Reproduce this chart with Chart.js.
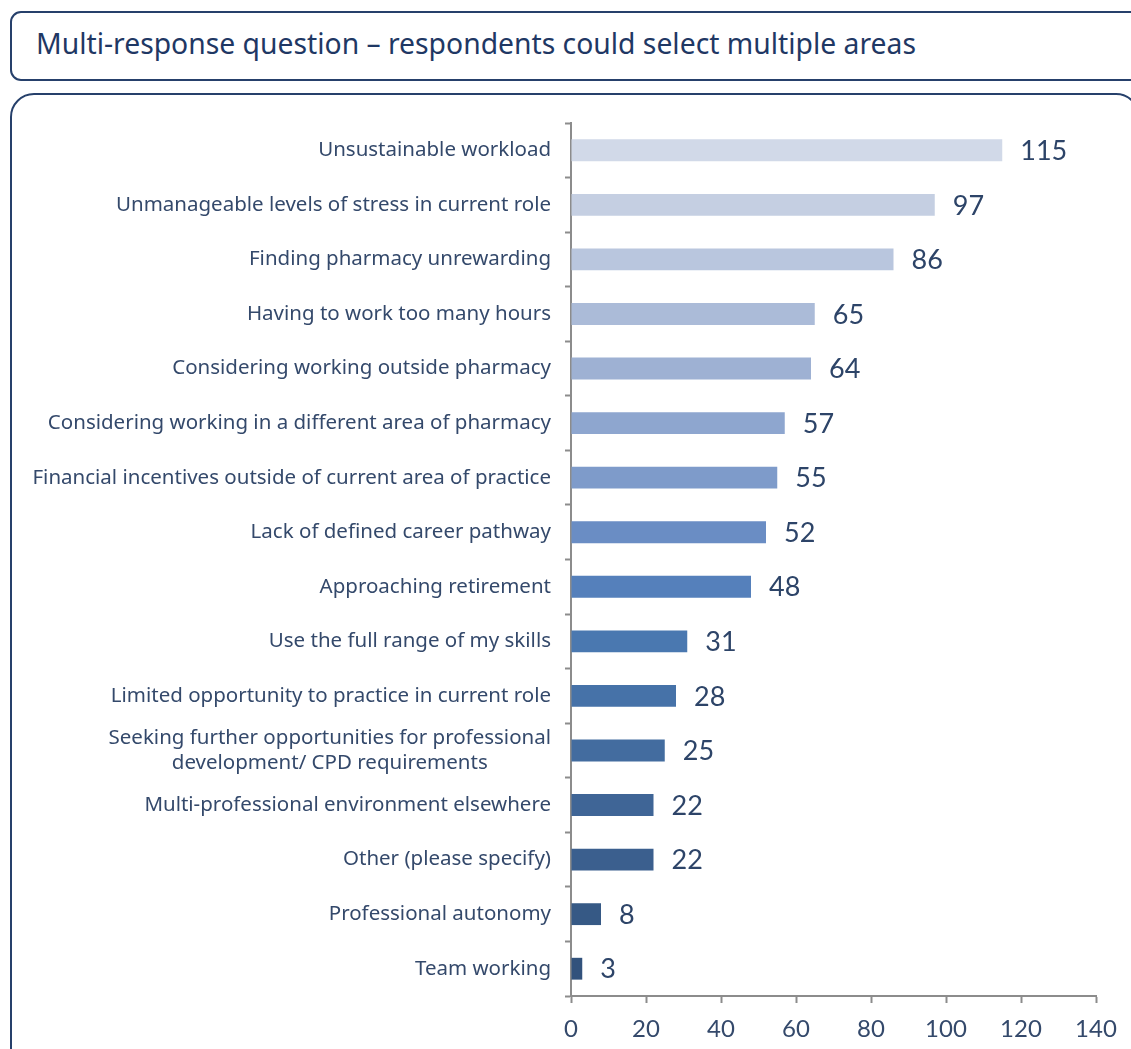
<!DOCTYPE html>
<html>
<head>
<meta charset="utf-8">
<script src="https://cdn.jsdelivr.net/npm/chart.js@4.4.1/dist/chart.umd.min.js"></script>
<style>
  html, body { margin: 0; padding: 0; background: #fff; overflow: hidden; }
  body { width: 1131px; height: 1049px; position: relative; font-family: "Noto Sans", Lato, sans-serif; }
  .titlebox {
    position: absolute; left: 10px; top: 11px; width: 1160px; height: 66px;
    border: 2px solid #26406b; border-radius: 11px;
  }
  .titlebox span {
    position: absolute; left: 24px; top: 11px;
    font-size: 28.3px; color: #1f3864; font-weight: 400;
  }
  .panel {
    position: absolute; left: 10px; top: 93px; width: 1126px; height: 980px;
    border: 2px solid #26406b; border-radius: 24px;
  }
  #wrap { position: absolute; left: 0; top: 0; width: 1131px; height: 1049px; }
</style>
</head>
<body>
<div class="titlebox"><span>Multi-response question – respondents could select multiple areas</span></div>
<div class="panel"></div>
<div id="wrap"><canvas id="miGrafica"></canvas></div>
<script>
const categorias = [
  "Unsustainable workload",
  "Unmanageable levels of stress in current role",
  "Finding pharmacy unrewarding",
  "Having to work too many hours",
  "Considering working outside pharmacy",
  "Considering working in a different area of pharmacy",
  "Financial incentives outside of current area of practice",
  "Lack of defined career pathway",
  "Approaching retirement",
  "Use the full range of my skills",
  "Limited opportunity to practice in current role",
  ["Seeking further opportunities for professional", "development/ CPD requirements"],
  "Multi-professional environment elsewhere",
  "Other (please specify)",
  "Professional autonomy",
  "Team working"
];
const respuestas = [115, 97, 86, 65, 64, 57, 55, 52, 48, 31, 28, 25, 22, 22, 8, 3];
const colores = [
  "#d1d9e8", "#c5cfe2", "#b9c6de", "#abbbd8", "#9eb1d3", "#8ea6cf", "#7e9bca", "#6a8dc4",
  "#5580bb", "#4a78b0", "#4672a8", "#436c9f", "#3f6596", "#3b5f8e", "#365985", "#32527c"
];
const ticksX = [0, 20, 40, 60, 80, 100, 120, 140];

const textoColor = "#34496b";
const ejeColor = "#8c8c8c";

// dibuja las etiquetas de categoria (centradas si tienen varias lineas)
const etiquetasY = {
  id: "etiquetasY",
  afterDraw(chart) {
    const ctx = chart.ctx;
    const y = chart.scales.y;
    const derecha = y.right - 20;
    ctx.save();
    ctx.font = "20.5px 'Noto Sans', Lato, sans-serif";
    ctx.fillStyle = textoColor;
    ctx.textBaseline = "middle";
    categorias.forEach((cat, i) => {
      const cy = y.getPixelForValue(i);
      if (Array.isArray(cat)) {
        const ancho = Math.max(...cat.map(l => ctx.measureText(l).width));
        const centro = derecha - ancho / 2;
        ctx.textAlign = "center";
        const alto = 25;
        cat.forEach((l, j) => {
          ctx.fillText(l, centro, cy + (j - (cat.length - 1) / 2) * alto);
        });
      } else {
        ctx.textAlign = "right";
        ctx.fillText(cat, derecha, cy);
      }
    });
    ctx.restore();
  }
};

// valores al final de cada barra
const valores = {
  id: "valores",
  afterDatasetsDraw(chart) {
    const ctx = chart.ctx;
    const meta = chart.getDatasetMeta(0);
    ctx.save();
    ctx.font = "27px Lato, 'Noto Sans', sans-serif";
    ctx.fillStyle = "#2d4468";
    ctx.textAlign = "left";
    ctx.textBaseline = "middle";
    meta.data.forEach((bar, i) => {
      ctx.fillText(String(respuestas[i]), bar.x + 18, bar.y + 1);
    });
    ctx.restore();
  }
};

let miGrafica = document.getElementById("miGrafica").getContext("2d");

var chart = new Chart(miGrafica, {
  type: "bar",
  data: {
    labels: categorias,
    datasets: [
      {
        label: "Respondents",
        data: respuestas,
        backgroundColor: colores,
        borderWidth: 0,
        categoryPercentage: 1,
        barPercentage: 0.4
      }
    ]
  },
  options: {
    indexAxis: "y",
    responsive: true,
    maintainAspectRatio: false,
    animation: false,
    layout: { padding: { top: 123, right: 35, left: 0, bottom: 0 } },
    plugins: {
      legend: { display: false },
      tooltip: { enabled: false }
    },
    scales: {
      x: {
        min: 0,
        max: 140,
        afterBuildTicks(scale) {
          scale.ticks = ticksX.map(v => ({ value: v }));
        },
        afterFit(scale) { scale.height = 53; },
        grid: {
          drawOnChartArea: false,
          drawTicks: true,
          tickLength: 7,
          tickWidth: 2,
          tickColor: ejeColor
        },
        border: { color: ejeColor, width: 2 },
        ticks: {
          color: textoColor,
          padding: 12,
          font: { family: "Lato, 'Noto Sans', sans-serif", size: 24 }
        }
      },
      y: {
        afterFit(scale) { scale.width = 571; },
        grid: {
          offset: true,
          drawOnChartArea: false,
          drawTicks: true,
          tickLength: 6,
          tickWidth: 2,
          tickColor: ejeColor
        },
        border: { color: ejeColor, width: 2 },
        ticks: {
          color: "rgba(0,0,0,0)",
          font: { size: 19 }
        }
      }
    }
  },
  plugins: [valores, etiquetasY]
});
</script>
</body>
</html>
